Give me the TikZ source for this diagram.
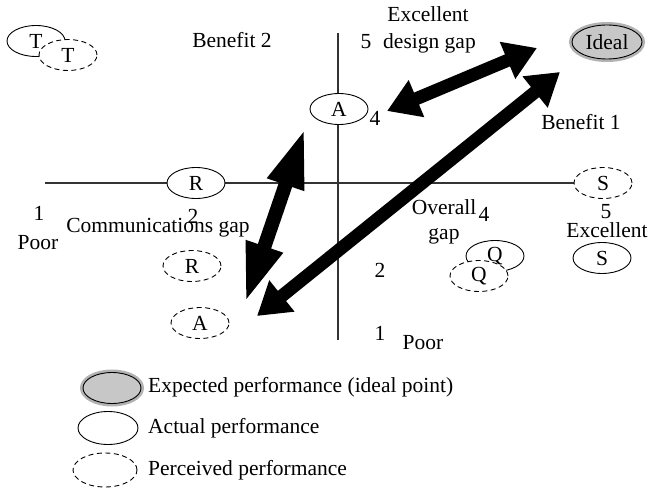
\documentclass[tikz,border=0pt]{standalone}
\usepackage{fontspec}
\setmainfont{Liberation Serif}
\usetikzlibrary{shapes.geometric,arrows.meta}

\tikzset{
  lbl/.style={inner sep=0pt, text height=14bp, text depth=4bp,
              font=\fontsize{21.5bp}{24bp}\selectfont},
  ell/.style={ellipse, inner sep=0pt, minimum width=58bp, minimum height=31bp,
              line width=0.9bp, fill=white, draw=black,
              font=\fontsize{21.5bp}{24bp}\selectfont},
  solidell/.style={ell},
  dashell/.style={ell, dash pattern=on 5bp off 3.5bp},
  idealell/.style={ell, fill=black!22,
                   preaction={draw=black!30, line width=6bp}},
  axisline/.style={draw=black!80, line width=1.2bp},
  gaparrow/.style={line width=13bp, draw=black,
                   {Triangle[length=32bp,width=38bp]}-{Triangle[length=32bp,width=38bp]}},
  commarrow/.style={line width=14bp, draw=black,
                   {Triangle[length=60bp,width=35bp]}-{Triangle[length=60bp,width=35bp]}},
}

\begin{document}
\begin{tikzpicture}[x=1bp,y=-1bp]
  \useasboundingbox[fill=white] (0,0) rectangle (649,494);

  % axes
  \coordinate (hL) at (45,183);
  \coordinate (hR) at (575,183);
  \coordinate (vT) at (338,33);
  \coordinate (vB) at (338,340);
  \draw[axisline] (hL) -- (hR);
  \draw[axisline] (vT) -- (vB);

  % points on the map
  \node[solidell] (Tact) at (36,41) {T};
  \node[dashell]  (Tper) at (68,55) {T};
  \node[solidell] (Aact) at (339,109) {A};
  \node[idealell, minimum width=70bp, minimum height=34bp] (ideal) at (607,42) {Ideal};
  \node[solidell] (Ract) at (196,183) {R};
  \node[dashell]  (Sper) at (603,183) {S};
  \node[solidell] (Sact) at (602,258) {S};
  \node[solidell] (Qact) at (495,256) {Q};
  \node[dashell]  (Qper) at (479,276) {Q};
  \node[dashell]  (Rper) at (192,266) {R};
  \node[dashell]  (Aper) at (200,323) {A};

  % axis labels and captions
  \node[lbl] (exTop) at (428,17) {Excellent};
  \node[lbl] (fiveTop) at (366,44) {5};
  \node[lbl, anchor=west] (design) at (383,44) {design gap};
  \node[lbl] (ben2) at (232,43) {Benefit 2};
  \node[lbl] (fourA) at (375,121) {4};
  \node[lbl] (ben1) at (581,125) {Benefit 1};
  \node[lbl] (oneL) at (39,216) {1};
  \node[lbl] (poorL) at (38,245) {Poor};
  \node[lbl] (twoL) at (193,219) {2};
  \node[lbl] (comm) at (158,228) {Communications gap};
  \node[lbl] (overall) at (444,210) {Overall};
  \node[lbl] (fourO) at (484,217) {4};
  \node[lbl] (gapO) at (444,235) {gap};
  \node[lbl] (fiveR) at (606,214) {5};
  \node[lbl] (exR) at (607,233) {Excellent};
  \node[lbl] (twoB) at (380,272) {2};
  \node[lbl] (oneB) at (380,335) {1};
  \node[lbl] (poorB) at (423,344) {Poor};

  % gap arrows
  \coordinate (dgA) at (387,111);
  \coordinate (dgI) at (537,48);
  \coordinate (ogI) at (560,72);
  \coordinate (ogA) at (257,316);
  \coordinate (cgA) at (305,128);
  \coordinate (cgP) at (245,303);
  \draw[gaparrow] (dgA) -- (dgI);
  \draw[gaparrow] (ogI) -- (ogA);
  \draw[commarrow] (cgA) -- (cgP);

  % legend
  \node[idealell, minimum width=58bp, minimum height=31bp] (legE) at (112,388) {};
  \node[solidell, minimum width=60bp, minimum height=33bp] (legA) at (108,428) {};
  \node[dashell, minimum width=64bp, minimum height=34bp] (legP) at (105,470) {};
  \node[lbl, anchor=west] (legEt) at (148,387) {Expected performance (ideal point)};
  \node[lbl, anchor=west] (legAt) at (148,428) {Actual performance};
  \node[lbl, anchor=west] (legPt) at (148,470) {Perceived performance};
\end{tikzpicture}
\end{document}
